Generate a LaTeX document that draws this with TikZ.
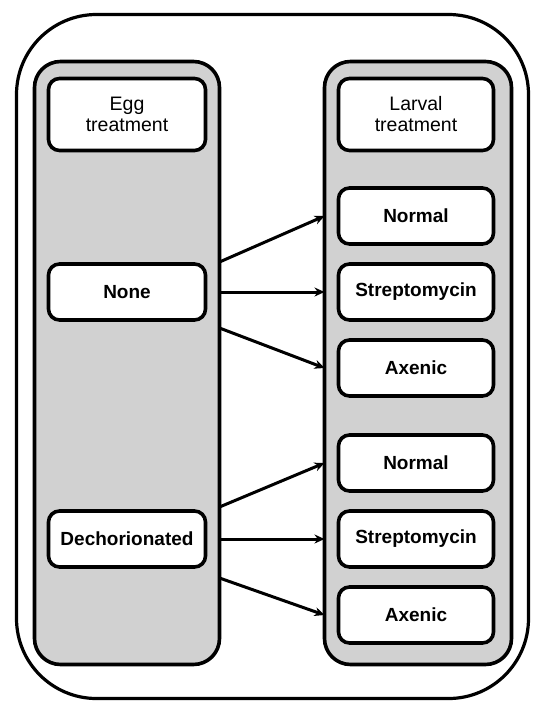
\documentclass[tikz,border=0pt]{standalone}
\usepackage{fontspec}
\setmainfont{Liberation Sans}
\usepackage{tikz}
\usetikzlibrary{positioning}
\usetikzlibrary{arrows.meta}
\usetikzlibrary{calc}

\begin{document}
\begin{tikzpicture}[x=1pt,y=-1pt, node distance=20pt,
  frame/.style={draw, line width=3.2pt, rounded corners=80pt, inner sep=0pt, outer sep=0pt},
  column/.style={draw, line width=3.6pt, fill=black!18, rounded corners=26pt, inner sep=0pt, outer sep=0pt, minimum height=603pt},
  head/.style={draw, line width=3.6pt, fill=white, rounded corners=11pt, inner sep=0pt, outer sep=0pt, minimum height=72pt, align=center, font=\fontsize{19.5}{21}\selectfont},
  entry/.style={draw, line width=3.6pt, fill=white, rounded corners=11pt, inner sep=0pt, outer sep=0pt, minimum width=155pt, minimum height=56pt, font=\fontsize{19}{21}\selectfont\bfseries},
  link/.style={line width=3pt, -{Stealth[length=10pt,width=9pt]}}]
\useasboundingbox (0,0) rectangle (536,705);
\node[frame, minimum width=512pt, minimum height=684pt] (frame) at (272.5,356.5) {};
\node[column, minimum width=185pt] (eggcol) at (127,363) {};
\node[column, minimum width=187pt] (larvcol) at (418,363) {};
\node[head, minimum width=157pt] (egghead) at (127,114.5) {Egg\\treatment};
\node[head, minimum width=155pt] (larvhead) at (416,114.5) {Larval\\treatment};

\node[entry] (norm1) at (416,216) {Normal};
\node[entry, below=of norm1] (strep1) {Streptomycin};
\node[entry, below=of strep1] (axen1) {Axenic};
\node[entry, below=39pt of axen1] (norm2) {Normal};
\node[entry, below=of norm2] (strep2) {Streptomycin};
\node[entry, below=of strep2] (axen2) {Axenic};

\node[entry, minimum width=157pt] (none) at (egghead |- strep1) {None};
\node[entry, minimum width=157pt] (dech) at (egghead |- strep2) {Dechorionated};

\draw[link] ([yshift=30pt]eggcol.east |- none) -- (larvcol.west |- norm1);
\draw[link] (eggcol.east |- none) -- (larvcol.west |- strep1);
\draw[link] ([yshift=-36pt]eggcol.east |- none) -- (larvcol.west |- axen1);
\draw[link] ([yshift=32pt]eggcol.east |- dech) -- (larvcol.west |- norm2);
\draw[link] (eggcol.east |- dech) -- (larvcol.west |- strep2);
\draw[link] ([yshift=-39pt]eggcol.east |- dech) -- (larvcol.west |- axen2);
\end{tikzpicture}
\end{document}
